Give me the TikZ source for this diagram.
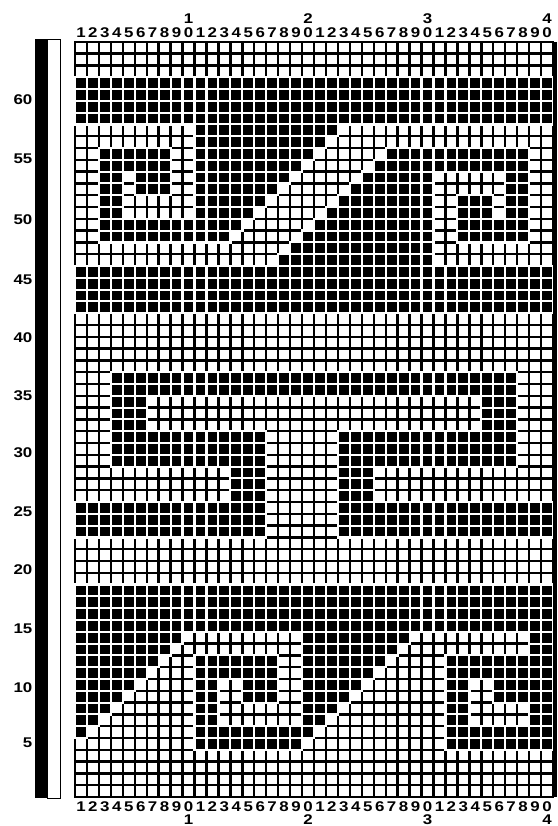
\documentclass[tikz,border=0pt]{standalone}
\usepackage{fontspec}
\setsansfont{Liberation Sans}
\newfontfamily\numfont[FakeStretch=1.2]{Liberation Sans}
\usetikzlibrary{calc}

% filled runs: first row/last row/first column/last column
\newcommand{\chartruns}{58/61/1/40, 57/57/11/22, 56/56/11/21,
  54/55/3/8, 55/55/11/20, 54/54/11/19, 55/55/27/38, 54/54/26/38,
  52/53/3/4, 52/53/6/8, 53/53/11/18, 52/52/11/17, 53/53/25/30, 52/52/24/30,
  50/53/37/38, 50/51/3/4, 51/51/11/16, 50/50/11/15, 51/51/23/30, 50/50/22/30,
  50/51/33/35, 49/49/3/14, 48/48/3/13, 49/49/21/30, 48/48/20/30, 48/49/33/38,
  47/47/19/30, 46/46/18/30, 42/45/1/40,
  35/36/4/37, 32/34/4/6, 32/34/35/37, 29/31/4/16, 29/31/23/37,
  26/28/14/16, 26/28/23/25, 23/25/1/16, 23/25/23/40, 15/18/1/40,
  14/14/1/9, 14/14/20/28, 13/13/1/8, 13/13/20/27, 12/12/1/7, 12/12/20/26,
  11/11/1/6, 11/11/20/25, 10/10/1/5, 10/10/20/24, 9/9/1/4, 9/9/20/23,
  8/8/1/3, 8/8/20/22, 7/7/1/2, 7/7/20/21, 6/6/1/1, 6/6/20/20, 6/14/39/40,
  11/12/11/17, 9/10/11/12, 9/10/15/17, 7/8/11/12, 5/6/11/19,
  11/12/32/38, 9/10/32/33, 9/10/36/38, 7/8/32/33, 5/6/32/40}

\begin{document}
\begin{tikzpicture}[x=2.9875mm,y=2.95mm,
  gridline/.style={line width=0.6mm},
  numtext/.style={font=\numfont\bfseries\fontsize{10}{10}\selectfont,inner sep=0pt}]
\useasboundingbox (-6.276,-2.458) rectangle (40.335,67.54);
\fill (-3.35,-0.08) rectangle (-2.34,64.24);
\draw[thin] (-2.34,-0.08) rectangle (-1.26,64.24);
\draw[gridline,step=1] (0,0) grid (40,64);
\draw[gridline] (0,0) rectangle (40,64);
\foreach \ra/\rb/\ca/\cb in \chartruns
  \fill[white] (\ca-1.1,\ra-1.1) rectangle (\cb+0.1,\rb+0.1);
\foreach \ra/\rb/\ca/\cb in \chartruns
  \foreach \r in {\ra,...,\rb}
    \foreach \c in {\ca,...,\cb}
      \fill (\c-0.91,\r-0.91) rectangle (\c-0.09,\r-0.09);
\fill (40,0) rectangle (40.335,64);
\foreach \c in {1,...,40}{
  \pgfmathtruncatemacro\d{mod(\c,10)}
  \node[numtext] (ctop\c) at (\c-0.5,64.8) {\d};
  \node[numtext] (cbot\c) at (\c-0.5,-0.8) {\d};
}
\foreach \t in {1,...,4}{
  \node[numtext] (ttop\t) at (10*\t-0.5,65.95) {\t};
  \node[numtext] (tbot\t) at (10*\t-0.5,-1.92) {\t};
}
\foreach \l/\y in {60/59.1,55/54.1,50/48.9,45/43.8,40/38.9,35/34.0,
    30/29.15,25/24.15,20/19.25,15/14.3,10/9.3,5/4.6}
  \node[numtext,anchor=east] (row\l) at (-3.55,\y) {\l};
\end{tikzpicture}
\end{document}
